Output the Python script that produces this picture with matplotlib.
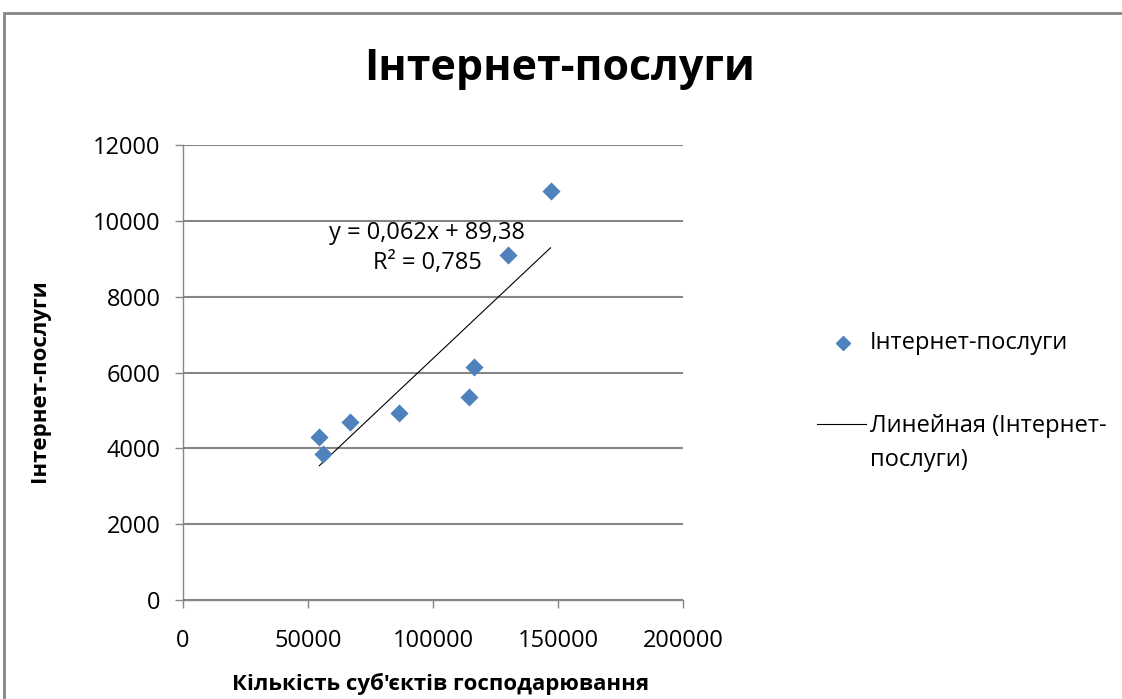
import numpy as np
import matplotlib.pyplot as plt
from matplotlib.lines import Line2D
from matplotlib.patches import Rectangle

# subjects of economic activity vs internet services
subjects = [54500, 56100, 66800, 86500, 114500, 116500, 130000, 147000]
internet = [4300, 3850, 4700, 4940, 5360, 6150, 9100, 10800]

x_ticks = [0, 50000, 100000, 150000, 200000]
y_ticks = [0, 2000, 4000, 6000, 8000, 10000, 12000]

title = "Інтернет-послуги"
x_label = "Кількість суб'єктів господарювання"
y_label = "Інтернет-послуги"
series_name = "Інтернет-послуги"
trend_name = "Линейная (Інтернет-\nпослуги)"
eq_text = "y = 0,062x + 89,38\nR² = 0,785"

plt.rcParams['font.family'] = ['Open Sans', 'DejaVu Sans']

blue = "#4F81BD"
grey = "#868686"

fig = plt.figure(figsize=(11.22, 6.99), dpi=100)
# chart area border (runs off the right and bottom edges)
fig.patches.append(Rectangle((4 / 1122, -0.1), 1.2, 0.1 + (699 - 13) / 699,
                             transform=fig.transFigure, fill=False,
                             edgecolor=grey, linewidth=2))

ax = fig.add_axes([183 / 1122, 99 / 699, 500 / 1122, 455 / 699])

ax.set_xlim(0, 200000)
ax.set_ylim(0, 12000)
ax.set_xticks(x_ticks)
ax.set_yticks(y_ticks)
ax.yaxis.grid(True, color=grey, linewidth=1.5)
ax.set_axisbelow(True)

for side in ["top", "right"]:
    ax.spines[side].set_visible(False)
for side in ["left", "bottom"]:
    ax.spines[side].set_color(grey)
    ax.spines[side].set_linewidth(1.0)

ax.tick_params(axis="both", direction="out", length=6, width=1.0,
               color=grey, labelsize=17, labelcolor="black")
ax.tick_params(axis="y", pad=10)
ax.tick_params(axis="x", pad=15)

ax.scatter(subjects, internet, marker="D", s=85, color=blue, zorder=3,
           linewidths=0)

# linear trend over the data range
slope, intercept = np.polyfit(subjects, internet, 1)
xs = np.array([min(subjects), max(subjects)])
ax.plot(xs, slope * xs + intercept, color="black", linewidth=0.8, zorder=2)

ax.text(97600, 9280, eq_text, ha="center", va="center", fontsize=17,
        linespacing=1.3)

fig.text(560 / 1122, 1 - 69 / 699, title, ha="center", va="center",
         fontsize=31, fontweight="bold")
fig.text(441 / 1122, 1 - 684 / 699, x_label, ha="center", va="center",
         fontsize=16, fontweight="bold")
fig.text(40 / 1122, 1 - 381 / 699, y_label, ha="center", va="center",
         rotation=90, fontsize=16, fontweight="bold")

# legend drawn by hand to keep Excel's layout
fig.add_artist(Line2D([843 / 1122], [1 - 343 / 699], marker="D", color=blue,
                      linestyle="none", markersize=7,
                      transform=fig.transFigure))
fig.text(870 / 1122, 1 - 343 / 699, series_name, ha="left", va="center",
         fontsize=17)
fig.add_artist(Line2D([817 / 1122, 866 / 1122], [1 - 424 / 699, 1 - 424 / 699],
                      color="black", linewidth=0.8,
                      transform=fig.transFigure))
fig.text(870 / 1122, 1 - 443 / 699, trend_name, ha="left", va="center",
         fontsize=17, linespacing=1.6)

fig.savefig("out.png", dpi=100)
